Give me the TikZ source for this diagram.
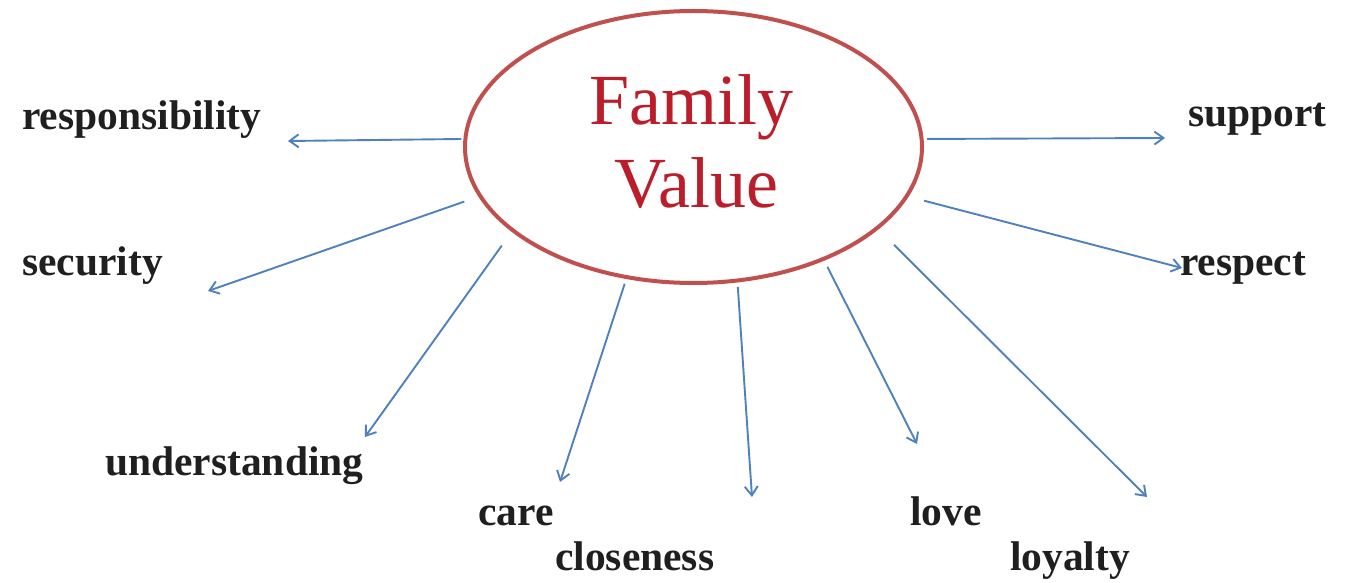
\documentclass[tikz,border=0pt]{standalone}
\usepackage{fontspec}
\setmainfont{Liberation Serif}
\usetikzlibrary{arrows.meta,shapes.geometric}
\definecolor{ellred}{RGB}{192,80,77}
\definecolor{txtred}{RGB}{185,30,42}
\definecolor{arrblue}{RGB}{79,129,189}
\begin{document}
\begin{tikzpicture}[x=1pt,y=-1pt,
  lbl/.style={anchor=base west, inner sep=0pt, font=\fontsize{41.5}{49}\selectfont\bfseries, text=black!88},
  title/.style={anchor=base, inner sep=0pt, text=txtred, font=\fontsize{72}{82}\selectfont},
  conn/.style={draw=arrblue, line width=1.9pt, -{Straight Barb[length=9pt,width=13pt]}, shorten <=#1},
  conn/.default=4pt,
]
\useasboundingbox (0,0) rectangle (1352,583);
\node[ellipse, draw=ellred, line width=4pt, minimum width=457pt, minimum height=272pt, inner sep=0pt] (fv) at (693.5,147) {};
\node[title] (fam) at (691,125) {Family};
\node[title] (val) at (696,207) {Value};

\node[lbl] (l1) at (22,130) {responsibility};
\node[lbl] (l2) at (22,275) {security};
\node[lbl] (l3) at (105,475) {understanding};
\node[lbl] (l4) at (478,525) {care};
\node[lbl] (l5) at (555,570) {closeness};
\node[lbl] (l6) at (910,525) {love};
\node[lbl] (l7) at (1010,570) {loyalty};
\node[lbl] (l8) at (1180,275) {respect};
\node[lbl] (l9) at (1188,127) {support};

\coordinate (t1) at (288,141);
\coordinate (t2) at (208,291);
\coordinate (t3) at (365,437);
\coordinate (t4) at (560,482);
\coordinate (t5) at (752,497);
\coordinate (t6) at (917,444);
\coordinate (t7) at (1147,497);
\coordinate (t8) at (1182,268);
\coordinate (t9) at (1165,138);

\draw[conn=2pt] (fv.178) -- (t1);
\draw[conn=15pt] (fv.193) -- (t2);
\draw[conn=17pt] (fv.205) -- (t3);
\draw[conn=5pt] (fv.243) -- (t4);
\draw[conn=4.5pt] (fv.288) -- (t5);
\draw[conn=7pt] (fv.319) -- (t6);
\draw[conn=22pt] (fv.336) -- (t7);
\draw[conn=16pt] (fv.347) -- (t8);
\draw[conn=3.5pt] (fv.2) -- (t9);
\end{tikzpicture}
\end{document}
